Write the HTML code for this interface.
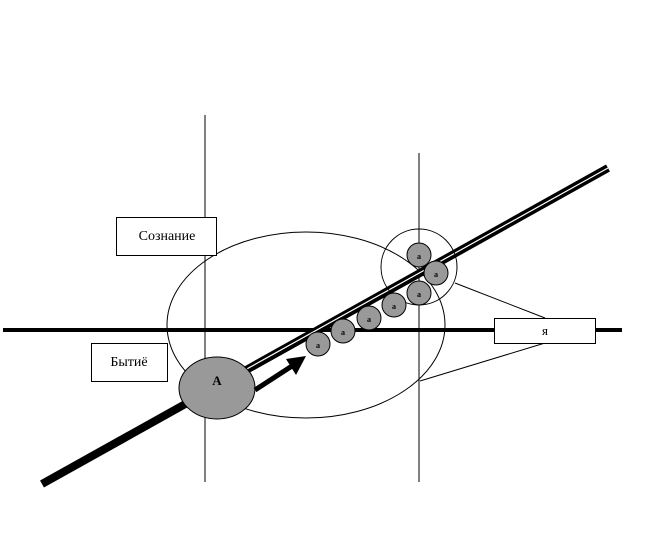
<!DOCTYPE html>
<html><head><meta charset="utf-8"><style>
html,body{margin:0;padding:0;background:#fff;width:655px;height:555px;overflow:hidden}
text{font-family:"Liberation Serif",serif}
</style></head><body>
<svg width="655" height="555" viewBox="0 0 655 555" xmlns="http://www.w3.org/2000/svg">
<rect width="655" height="555" fill="#fff"/>
<line x1="205" y1="115" x2="205" y2="482" stroke="#000" stroke-width="1"/>
<line x1="419" y1="153" x2="419" y2="482" stroke="#000" stroke-width="1"/>
<ellipse cx="306" cy="325" rx="139" ry="93" fill="none" stroke="#000" stroke-width="1"/>
<line x1="3" y1="330" x2="622" y2="330" stroke="#000" stroke-width="4"/>
<line x1="42" y1="484" x2="608" y2="168" stroke="#000" stroke-width="8"/>
<line x1="200" y1="395" x2="608" y2="168" stroke="#fff" stroke-width="1.2"/>
<circle cx="419" cy="267" r="38" fill="none" stroke="#000" stroke-width="1"/>
<line x1="455" y1="283" x2="545" y2="318" stroke="#000" stroke-width="1"/>
<line x1="420" y1="381" x2="545" y2="343" stroke="#000" stroke-width="1"/>
<g fill="#999" stroke="#000" stroke-width="1">
<circle cx="419" cy="255" r="12"/>
<circle cx="436" cy="273" r="12"/>
<circle cx="419" cy="293" r="12"/>
<circle cx="394" cy="305" r="12"/>
<circle cx="369" cy="318" r="12"/>
<circle cx="343" cy="331" r="12"/>
<circle cx="318" cy="344" r="12"/>
<ellipse cx="217" cy="388" rx="38" ry="31"/>
</g>
<g font-size="8" font-weight="bold" text-anchor="middle" fill="#000">
<text x="419" y="259">a</text><text x="436" y="277">a</text><text x="419" y="297">a</text>
<text x="394" y="309">a</text><text x="369" y="322">a</text><text x="343" y="335">a</text><text x="318" y="348">a</text>
</g>
<text x="217" y="385" font-size="13" font-weight="bold" text-anchor="middle">A</text>
<line x1="255" y1="390" x2="292" y2="366" stroke="#000" stroke-width="5"/>
<polygon points="306,356 286,359 296,375" fill="#000"/>
<rect x="116.5" y="217.5" width="100" height="38" fill="#fff" stroke="#000"/>
<text x="167" y="240" font-size="14" text-anchor="middle">Сознание</text>
<rect x="91.5" y="343.5" width="76" height="38" fill="#fff" stroke="#000"/>
<text x="129" y="366" font-size="14" text-anchor="middle">Бытиё</text>
<rect x="494.5" y="318.5" width="101" height="25" fill="#fff" stroke="#000"/>
<text x="545" y="335" font-size="13" text-anchor="middle">я</text>
</svg>
</body></html>
